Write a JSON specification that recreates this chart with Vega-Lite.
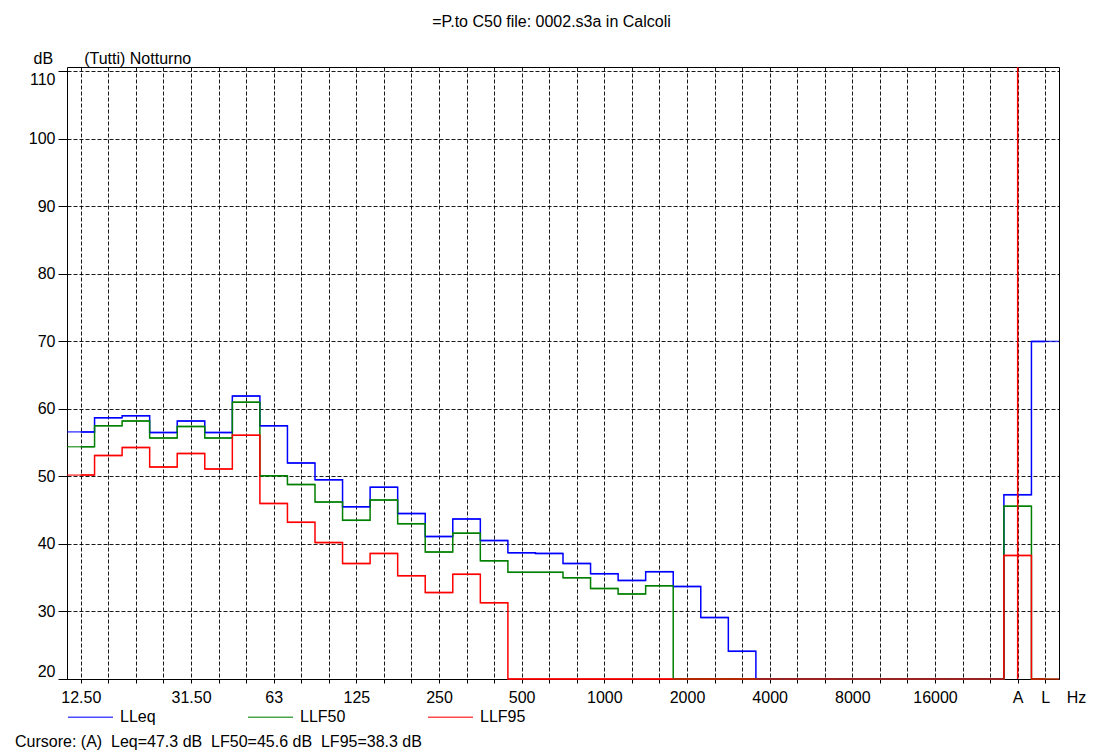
{
  "$schema": "https://vega.github.io/schema/vega-lite/v6.json",
  "width": 992,
  "height": 612,
  "autosize": {"type": "none"},
  "padding": {"left": 67, "top": 67, "right": 35, "bottom": 74},
  "background": "white",
  "config": {
    "font": "Liberation Sans",
    "view": {"stroke": "#000", "strokeWidth": 1},
    "axis": {
      "labelFont": "Liberation Sans",
      "labelFontSize": 16,
      "labelColor": "#000",
      "titleFont": "Liberation Sans",
      "titleFontSize": 16,
      "titleFontWeight": "normal",
      "titleColor": "#000",
      "gridColor": "#000",
      "gridDash": [4, 2],
      "gridWidth": 1,
      "gridOpacity": 0.9,
      "tickColor": "#000",
      "domain": false
    }
  },
  "title": {
    "text": "Cursore: (A) \u00a0Leq=47.3 dB \u00a0LF50=45.6 dB \u00a0LF95=38.3 dB",
    "orient": "bottom",
    "anchor": "start",
    "frame": "group",
    "baseline": "alphabetic",
    "dx": -52,
    "dy": 21,
    "offset": 0,
    "font": "Liberation Sans",
    "fontSize": 16,
    "fontWeight": "normal",
    "color": "#000"
  },
  "data": {
    "values": [
      {"i": 0, "band": "12.5", "LLeq": 56.6, "LLF50": 54.4, "LLF95": 50.2},
      {"i": 1, "band": "16", "LLeq": 58.7, "LLF50": 57.5, "LLF95": 53.1},
      {"i": 2, "band": "20", "LLeq": 59.0, "LLF50": 58.2, "LLF95": 54.3},
      {"i": 3, "band": "25", "LLeq": 56.5, "LLF50": 55.7, "LLF95": 51.4},
      {"i": 4, "band": "31.5", "LLeq": 58.2, "LLF50": 57.4, "LLF95": 53.4},
      {"i": 5, "band": "40", "LLeq": 56.5, "LLF50": 55.7, "LLF95": 51.1},
      {"i": 6, "band": "50", "LLeq": 61.9, "LLF50": 61.0, "LLF95": 56.1},
      {"i": 7, "band": "63", "LLeq": 57.5, "LLF50": 50.1, "LLF95": 46.0},
      {"i": 8, "band": "80", "LLeq": 52.0, "LLF50": 48.8, "LLF95": 43.2},
      {"i": 9, "band": "100", "LLeq": 49.5, "LLF50": 46.2, "LLF95": 40.2},
      {"i": 10, "band": "125", "LLeq": 45.5, "LLF50": 43.5, "LLF95": 37.1},
      {"i": 11, "band": "160", "LLeq": 48.4, "LLF50": 46.5, "LLF95": 38.6},
      {"i": 12, "band": "200", "LLeq": 44.5, "LLF50": 43.0, "LLF95": 35.3},
      {"i": 13, "band": "250", "LLeq": 41.1, "LLF50": 38.8, "LLF95": 32.8},
      {"i": 14, "band": "315", "LLeq": 43.7, "LLF50": 41.6, "LLF95": 35.5},
      {"i": 15, "band": "400", "LLeq": 40.5, "LLF50": 37.5, "LLF95": 31.3},
      {"i": 16, "band": "500", "LLeq": 38.7, "LLF50": 35.8, "LLF95": 0},
      {"i": 17, "band": "630", "LLeq": 38.6, "LLF50": 35.8, "LLF95": 0},
      {"i": 18, "band": "800", "LLeq": 37.1, "LLF50": 35.0, "LLF95": 0},
      {"i": 19, "band": "1000", "LLeq": 35.6, "LLF50": 33.4, "LLF95": 0},
      {"i": 20, "band": "1250", "LLeq": 34.6, "LLF50": 32.6, "LLF95": 0},
      {"i": 21, "band": "1600", "LLeq": 35.9, "LLF50": 33.8, "LLF95": 0},
      {"i": 22, "band": "2000", "LLeq": 33.7, "LLF50": 0, "LLF95": 0},
      {"i": 23, "band": "2500", "LLeq": 29.1, "LLF50": 0, "LLF95": 0},
      {"i": 24, "band": "3150", "LLeq": 24.1, "LLF50": 0, "LLF95": 0},
      {"i": 25, "band": "4000", "LLeq": 0, "LLF50": 0, "LLF95": 0},
      {"i": 26, "band": "5000", "LLeq": 0, "LLF50": 0, "LLF95": 0},
      {"i": 27, "band": "6300", "LLeq": 0, "LLF50": 0, "LLF95": 0},
      {"i": 28, "band": "8000", "LLeq": 0, "LLF50": 0, "LLF95": 0},
      {"i": 29, "band": "10000", "LLeq": 0, "LLF50": 0, "LLF95": 0},
      {"i": 30, "band": "12500", "LLeq": 0, "LLF50": 0, "LLF95": 0},
      {"i": 31, "band": "16000", "LLeq": 0, "LLF50": 0, "LLF95": 0},
      {"i": 32, "band": "20000", "LLeq": 0, "LLF50": 0, "LLF95": 0},
      {"i": 33, "band": "", "LLeq": 0, "LLF50": 0, "LLF95": 0},
      {"i": 34, "band": "A", "LLeq": 47.3, "LLF50": 45.6, "LLF95": 38.3},
      {"i": 35, "band": "L", "LLeq": 70.0, "LLF50": 0, "LLF95": 0}
    ]
  },
  "layer": [
    {
      "transform": [{"fold": ["LLeq", "LLF50", "LLF95"], "as": ["serie", "dB"]}],
      "encoding": {
        "x": {
          "field": "i",
          "type": "quantitative",
          "scale": {"domain": [-0.5, 35.5], "nice": false, "zero": false},
          "axis": {
            "orient": "bottom",
            "values": [0, 1, 2, 3, 4, 5, 6, 7, 8, 9, 10, 11, 12, 13, 14, 15, 16, 17, 18, 19, 20, 21, 22, 23, 24, 25, 26, 27, 28, 29, 30, 31, 32, 33, 34, 35],
            "labelExpr": "['12.50','','','','31.50','','','63','','','125','','','250','','','500','','','1000','','','2000','','','4000','','','8000','','','16000','','','A','L'][datum.value]",
            "ticks": true,
            "tickSize": 4,
            "labelPadding": 19,
            "labelBaseline": "alphabetic",
            "labelOverlap": false,
            "labelFlush": false,
            "labelBound": false,
            "grid": true,
            "title": "Hz",
            "titleX": 1009,
            "titleY": 23.3,
            "titleAlign": "center",
            "titleBaseline": "alphabetic"
          }
        },
        "y": {
          "field": "dB",
          "type": "quantitative",
          "scale": {"domain": [20, 110.64], "nice": false, "zero": false, "clamp": true},
          "axis": {
            "values": [20, 30, 40, 50, 60, 70, 80, 90, 100, 110],
            "tickSize": 9,
            "labelPadding": 3,
            "labelFlush": 5,
            "grid": true,
            "title": "dB\u00a0\u00a0\u00a0\u00a0\u00a0\u00a0\u00a0(Tutti) Notturno",
            "titleAngle": 0,
            "titleAlign": "left",
            "titleBaseline": "alphabetic",
            "titleX": -34,
            "titleY": -3.7
          }
        },
        "color": {
          "field": "serie",
          "type": "nominal",
          "scale": {"domain": ["LLeq", "LLF50", "LLF95"], "range": ["#0000ff", "#008000", "#ff0000"]},
          "legend": {
            "orient": "none",
            "legendX": 0,
            "legendY": 626.5,
            "direction": "horizontal",
            "columns": 3,
            "title": null,
            "symbolType": "stroke",
            "symbolSize": 2025,
            "symbolStrokeWidth": 1.5,
            "labelFont": "Liberation Sans",
            "labelFontSize": 16,
            "labelColor": "#000",
            "labelOffset": 6,
            "labelLimit": 0,
            "columnPadding": 79,
            "gridAlign": "all",
            "padding": 0
          }
        }
      },
      "layer": [
        {"mark": {"type": "line", "interpolate": "step", "strokeWidth": 1.5}},
        {"mark": {"type": "tick", "orient": "horizontal", "size": 27.56, "thickness": 1.5}}
      ]
    },
    {
      "data": {"values": [{"cursore": "A", "i": 34}]},
      "mark": {"type": "rule", "color": "#ff0000", "strokeWidth": 1.5},
      "encoding": {
        "x": {
          "field": "i",
          "type": "quantitative",
          "axis": {
            "orient": "top",
            "labels": false,
            "ticks": false,
            "grid": false,
            "title": "=P.to C50 file: 0002.s3a in Calcoli",
            "titleX": 484,
            "titleY": -40.3,
            "titleAlign": "center",
            "titleBaseline": "alphabetic"
          }
        }
      }
    }
  ],
  "resolve": {"axis": {"x": "independent"}}
}
